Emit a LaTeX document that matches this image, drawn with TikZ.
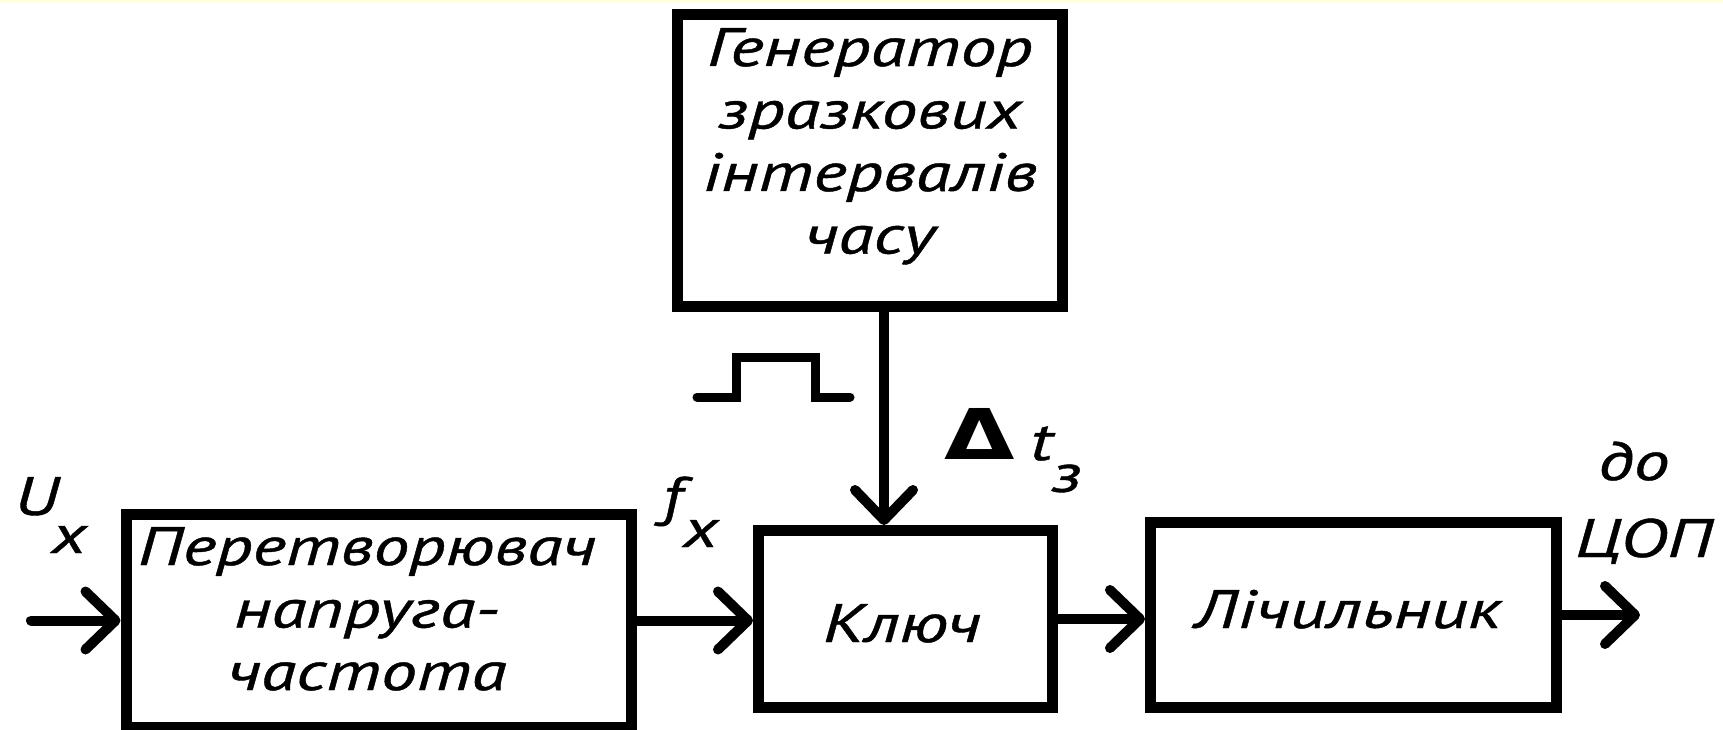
\documentclass[tikz,border=0pt]{standalone}
\usepackage{fontspec}
\usepackage{graphicx}
\usetikzlibrary{arrows.meta}
\newfontfamily\dfont[FakeStretch=1.33, FakeBold=0.8]{PT Sans Italic}
\newfontfamily\gfont{DejaVu Sans Bold}
\definecolor{topstrip}{RGB}{255,255,222}
\begin{document}
\begin{tikzpicture}[x=1pt,y=-1pt,
  box/.style={draw, line width=11pt, inner sep=0pt},
  txt/.style={inner sep=0pt, font=\dfont\fontsize{54}{62.5}\selectfont, align=center},
  conn/.style={line width=10pt, line cap=round, -{Straight Barb[length=30pt,width=58pt,round]}},
  pulse/.style={line width=9pt, line cap=round}]
\useasboundingbox (0,0) rectangle (1723,730);
\fill[topstrip] (0,0) rectangle (1723,3);
% boxes
\node[box, minimum width=385pt, minimum height=292pt] (gen) at (870,160.5) {};
\node[box, minimum width=505pt, minimum height=213pt] (conv) at (378.5,620.5) {};
\node[box, minimum width=294pt, minimum height=177pt] (key) at (905.5,619) {};
\node[box, minimum width=406pt, minimum height=185pt] (cnt) at (1353.5,615) {};
% box texts
\node[txt, anchor=north] (gent) at (870,28) {Генератор\\зразкових\\інтервалів\\часу};
\node[txt, anchor=north] (convt) at (367,527) {Перетворювач\\напруга-\\частота};
\node[txt, anchor=base] (keyt) at (902,642) {Ключ};
\node[txt, anchor=base] (cntt) at (1348,628) {Лічильник};
% labels
\node[txt, anchor=base west] (ux) at (14,515) {U\kern-7pt\raisebox{-38pt}{x}};
\node[txt, anchor=base west] (fx) at (662,515) {f\kern1pt\raisebox{-32pt}{x}};
\node[inner sep=0pt, anchor=base west, font=\gfont\fontsize{70}{70}\selectfont] (delta) at (944,459) {\scalebox{1.3}[1]{Δ}};
\node[txt, anchor=base west] (tz) at (1030,460) {t\kern-1pt\raisebox{-32pt}{з}};
\node[txt, anchor=base west] (do) at (1598,480) {до};
\node[txt, anchor=base west] (cop) at (1575,557) {ЦОП};
% connectors
\coordinate (in) at (31,620.5);
\coordinate (gx) at (884,0);
\coordinate (out) at (1640,615);
\draw[conn] (in) -- (conv.west);
\draw[conn] (conv.east) -- (conv.east -| key.west);
\draw[conn] (gx |- gen.south) -- (gx |- key.north);
\draw[conn] (key.east) -- (key.east -| cnt.west);
\draw[conn] (cnt.east) -- (out);
% pulse symbol
\draw[pulse] (697,397) -- (736,397) -- (736,357) -- (815,357) -- (815,397) -- (850,397);
\end{tikzpicture}
\end{document}
